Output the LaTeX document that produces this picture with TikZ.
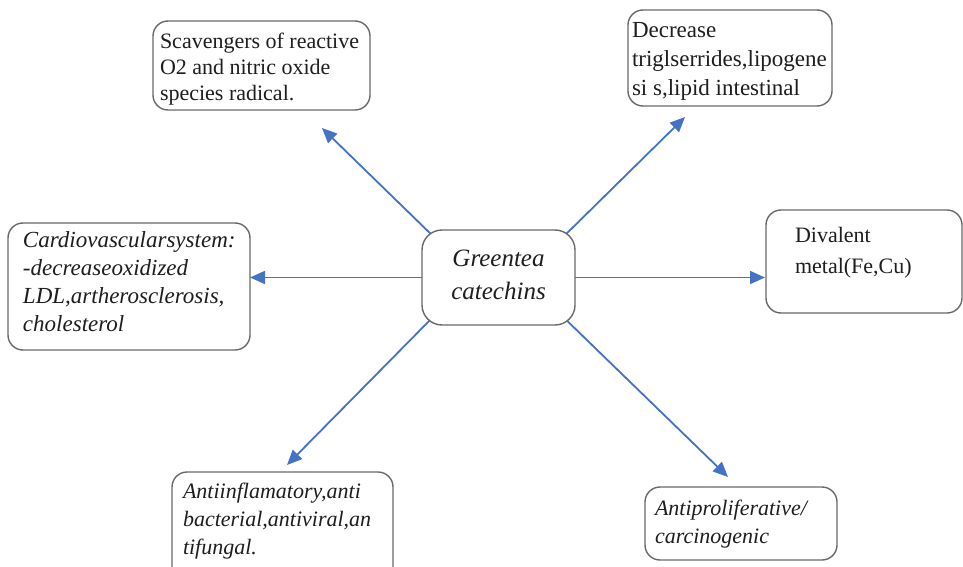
\documentclass[tikz,border=0pt]{standalone}
\usepackage{fontspec}
\setmainfont{Liberation Serif}
\usetikzlibrary{arrows.meta,calc,backgrounds}
\definecolor{arrowblue}{RGB}{68,114,196}
\definecolor{boxgray}{RGB}{105,105,105}
\definecolor{txtgray}{RGB}{30,30,30}
% width, height, top gap, left gap, font size, baselineskip, text
\newcommand{\bxtext}[7]{\parbox[c][#2pt][t]{#1pt}{\fontsize{#5}{#6}\selectfont\raggedright\hyphenpenalty=10000\exhyphenpenalty=10000\leftskip=#4pt\relax\vspace*{#3pt}#7}}
\tikzset{
  box/.style={draw=boxgray, line width=1.4pt, rounded corners=15pt, fill=white,
    inner sep=0pt, outer sep=0pt, anchor=north west, text=txtgray},
  cbox/.style={box, rounded corners=20pt},
  arr/.style={draw=arrowblue, line width=1.8pt, -{Triangle[length=15pt,width=13pt]}}
}
\begin{document}
\begin{tikzpicture}[x=1pt,y=-1pt]
\useasboundingbox (0,0) rectangle (963,567);
\clip (0,0) rectangle (963,567);

\node[cbox] (c) at (422,230) {\bxtext{153}{95}{20}{0}{25pt}{33pt}{\centering\itshape Greentea\\catechins}};

\node[box] (scav) at (153,21) {\bxtext{217}{89}{12}{7}{22pt}{26pt}{Scavengers of reactive\\O2 and nitric oxide\\species radical.}};
\node[box] (trig) at (628,10) {\bxtext{204}{96}{12}{4}{23pt}{29pt}{Decrease\\triglserrides,lipogene\\si s,lipid intestinal}};
\node[box] (cardio) at (8,223) {\bxtext{242}{127}{9}{15}{23pt}{28pt}{\itshape Cardiovascularsystem:\\-decreaseoxidized\\LDL,artherosclerosis,\\cholesterol}};
\node[box] (metal) at (766,210) {\bxtext{196}{103}{17}{29}{22pt}{31pt}{Divalent\\metal(Fe,Cu)}};
\node[box] (anti) at (172,472) {\bxtext{221}{115}{11}{11}{22pt}{28pt}{\itshape Antiinflamatory,anti\\bacterial,antiviral,an\\tifungal.}};
\node[box] (prolif) at (645,487) {\bxtext{192}{73}{13}{10}{22pt}{28pt}{\itshape Antiproliferative/\\carcinogenic}};

\coordinate (t1) at (322,128);
\coordinate (t2) at (685,117);
\coordinate (t3) at (250,277.5);
\coordinate (t4) at (765,277.5);
\coordinate (t5) at (287,465);
\coordinate (t6) at (728,477);

\begin{scope}[on background layer]
\draw[arr] ($(c.north west)+(15,10)$) -- (t1);
\draw[arr] ($(c.north east)+(-18,13)$) -- (t2);
\draw[arr] (c.west) -- (t3);
\draw[arr] (c.east) -- (t4);
\draw[arr] ($(c.south west)+(13,-10)$) -- (t5);
\draw[arr] ($(c.south east)+(-17,-13)$) -- (t6);
\end{scope}
\end{tikzpicture}
\end{document}
